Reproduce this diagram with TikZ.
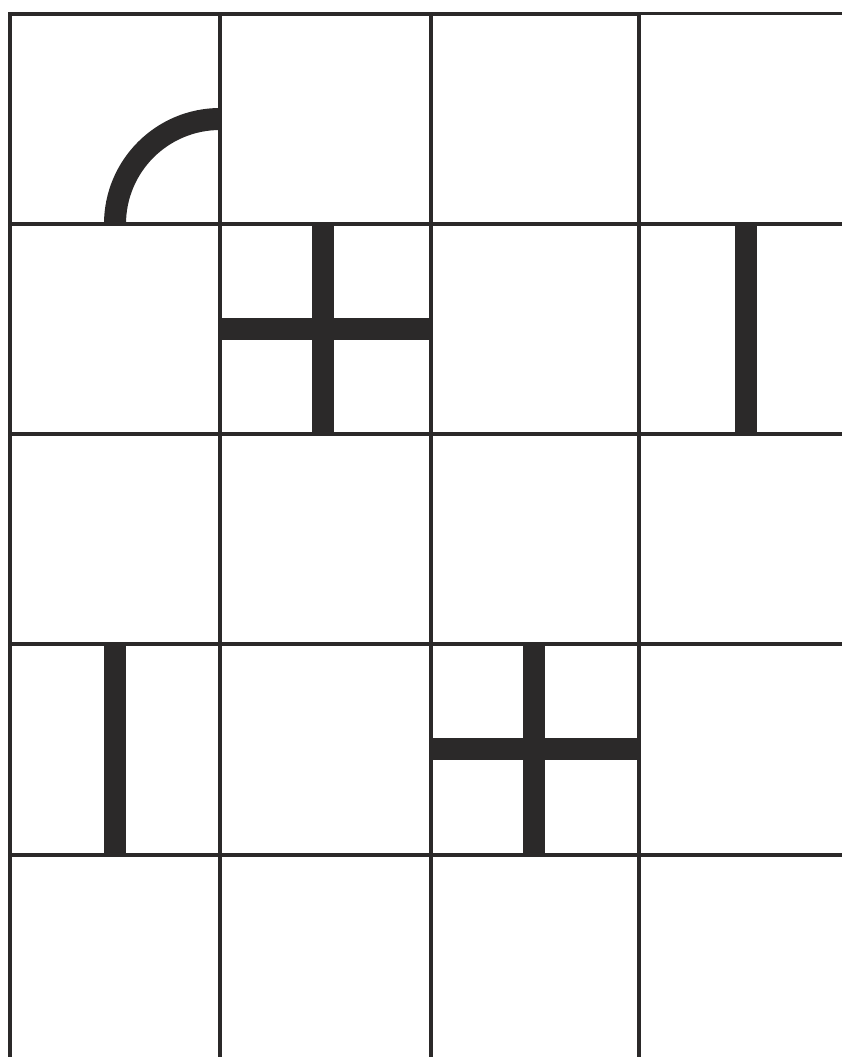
\documentclass[tikz,border=0pt]{standalone}
\definecolor{ink}{HTML}{2B2929}
\begin{document}
\begin{tikzpicture}[x=1pt,y=-1pt,
  gridline/.style={draw=ink,line width=3.5pt,line cap=butt},
  thingrid/.style={draw=ink,line width=2.2pt,line cap=butt},
  bar/.style={draw=ink,line width=22pt,line cap=butt}]
\useasboundingbox (0,0) rectangle (842,1057);
% vertical grid lines
\foreach \x in {10,220,431,639} \draw[gridline] (\x,12.25) -- (\x,1057);
% horizontal grid lines
\draw[gridline] (8.25,14) -- (639,14);
\draw[thingrid] (639,13.5) -- (842,13.5);
\foreach \y in {224,434,644,855} \draw[gridline] (8.25,\y) -- (842,\y);
% quarter arc in first cell
\draw[bar] (220,119) arc[start angle=-90,end angle=-180,radius=105];
% plus in row 2, column 2
\draw[bar] (220,329) -- (431,329);
\draw[bar] (322.5,224) -- (322.5,434);
% vertical bar in row 2, column 4
\draw[bar] (746,224) -- (746,434);
% vertical bar in row 4, column 1
\draw[bar] (115,644) -- (115,855);
% plus in row 4, column 3
\draw[bar] (431,749) -- (639,749);
\draw[bar] (533.5,644) -- (533.5,855);
\end{tikzpicture}
\end{document}
